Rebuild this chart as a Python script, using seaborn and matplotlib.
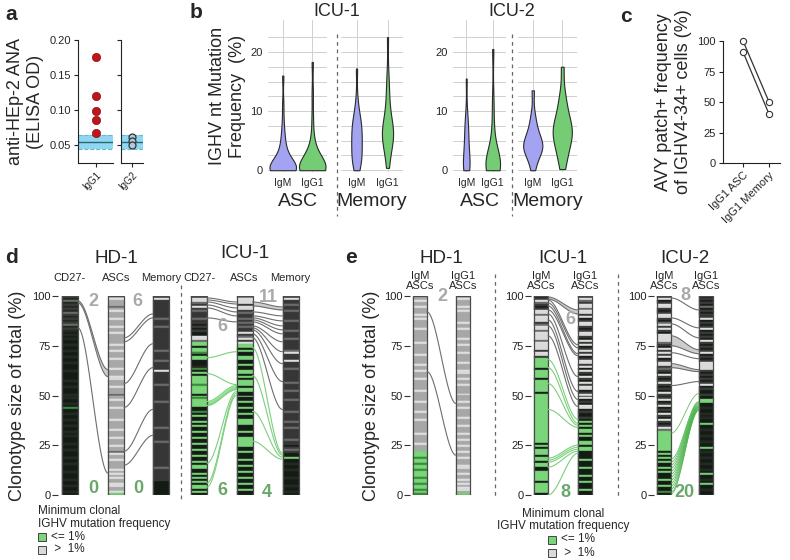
import itertools
import numpy as np
import pandas as pd
import seaborn as sns
import matplotlib.pyplot as plt
from matplotlib.patches import Rectangle
from matplotlib.lines import Line2D

sns.set_theme(style="white")
plt.rcParams["font.family"] = ["Liberation Sans", "DejaVu Sans"]

#####################################################################
# data
#####################################################################

# a - anti-HEp-2 ANA ELISA
ana_igg1 = [0.175, 0.120, 0.098, 0.085, 0.067]
ana_igg2 = [0.061, 0.056, 0.050]
ana_band = [0.044, 0.054, 0.064]   # lower, mean, upper of healthy range

# b - IGHV mutation frequency (%)
icu1_asc_igm = [0, 0, 0, 0, 0, 0, 0, 0, 0, 0, 0, 0, 0.2, 0.3, 0.4, 0.5, 0.6, 0.8, 1.0, 1.2,
                1.5, 1.8, 2.1, 2.5, 3.0, 3.6, 4.3, 5.2, 6.3, 8.0, 11.0, 16.0]
icu1_asc_igg1 = [0, 0, 0, 0, 0, 0, 0, 0, 0, 0, 0, 0.2, 0.3, 0.4, 0.5, 0.7, 0.9, 1.1, 1.3, 1.6,
                 1.9, 2.2, 2.6, 3.0, 3.5, 4.5, 6.0, 9.0, 13.0, 18.3]
icu1_mem_igm = [0, 0.5, 1, 1.5, 2, 2.5, 3, 3.5, 4, 4.5, 5, 5.5, 6, 6.5, 7, 7.5, 8, 8.5, 9, 10, 12, 17.2]
icu1_mem_igg1 = [0.4, 2, 3.5, 4.5, 5, 5.5, 5.8, 6, 6.2, 6.5, 7, 7.5, 8, 9, 10.5, 12, 14, 16, 22.5]
icu2_asc_igm = [0, 0, 0, 0.5, 1, 1.5, 2, 3, 4, 5, 6, 7, 8, 9.5, 15.5]
icu2_asc_igg1 = [0, 0, 0, 0, 0.3, 0.5, 0.8, 1, 1.2, 1.5, 2, 2.5, 3, 5, 8, 12, 20.5]
icu2_mem_igm = [0, 1.5, 2.5, 3, 3.5, 3.8, 4, 4.2, 4.5, 5, 5.5, 6, 7, 8, 9.5, 13.5]
icu2_mem_igg1 = [0.2, 2, 3, 4, 5, 5.5, 6, 6.5, 7, 7.5, 8, 9, 10, 11.5, 13, 17.5]
b_width = {("ICU-1", "ASC", "IgM"): 0.9, ("ICU-1", "ASC", "IgG1"): 0.9,
           ("ICU-1", "Memory", "IgM"): 0.34, ("ICU-1", "Memory", "IgG1"): 0.36,
           ("ICU-2", "ASC", "IgM"): 0.25, ("ICU-2", "ASC", "IgG1"): 0.55,
           ("ICU-2", "Memory", "IgM"): 0.65, ("ICU-2", "Memory", "IgG1"): 0.65}

# c - AVY patch+ frequency
avy_groups = ["IgG1 ASC", "IgG1 Memory"]
avy_donor1 = [100, 50]
avy_donor2 = [91, 40]

# d/e - clonotype bars, top -> bottom, one letter = 1 % of total
# k/j black, d dark gray, m mid gray, g gray, l light gray, G green (<=1%), h dark green
d_hd1_cd27 = ("djmjdjdjmd" "jdjdmjdjkj" "kjkkjkkjkk" "jkkjkkkjkk" "kkjkkjkkkj"
              "kjkkjkhkkj" "kkjkkjkkjk" "jkkkjkkjkk" "kjkkjkkkjk" "kkjkkjkkjk")
d_hd1_asc = ("glgggmglgg" "glggglgglg" "gggglgglgg" "glgggglggg" "llggglgggm"
             "gglggglggg" "gglgggglgg" "glggglggml" "gglgggglgl" "glggllgglG")
d_hd1_mem = ("dldddddddd" "dmdddmdddd" "dddddddmdd" "ddmddddldd" "ddddmddddd"
             "dddmdddddd" "ddddddmddd" "dddmdddddd" "ddddddmddd" "dddkkkkkkk")
d_icu1_cd27 = ("dllmdldmdd" "dmddkdkdkk" "llmGGkGGhk" "GGkkkjhkGk" "GGGGhGGGGk"
               "GhGGGGkkhk" "GkkGkGkkGk" "kGkkGkkGkk" "GkkGkGGkkG" "kGkGkGGkGk")
d_icu1_asc = ("mllldlldmd" "dmdmdmddld" "mldlGGkGkk" "GGkkGkkGGk" "GkGGGkGGkk"
              "GkkGkkGkkG" "kkGGGkkkGk" "kGGGGGkkGk" "kkGkkGkkGk" "kGkkGkkGkk")
d_icu1_mem = ("dlddmddmdd" "ddmddddmdd" "dmdddddmld" "ddldddmddd" "dddmdddmdd"
              "ddmdddddmd" "dddmddmddd" "ddmddkdmdk" "kGkkjkkjkk" "kjkkkjkkjk")
e_hd1_igm = ("gglgglgggl" "glgggglggg" "ggglgggggl" "gggglgglgg" "glggggglgg"
             "ggglgggglg" "gglggggggl" "gggglgggGG" "GhGGhGGhGG" "GhGGhGGhGh")
e_hd1_igg1 = ("glggglglgg" "ggglgglggg" "glgglggglg" "ggglgggllg" "glgglggggl"
              "ggglgglggg" "glggglgggl" "gglgglgglg" "glgggllggl" "gglglgllgG")
e_icu1_igm = ("kdlmdkdllm" "llldmllmll" "llmlllldll" "dGGGGGkGGG" "GkGGGGGGkG"
              "GGGGGGGGGG" "GGGGGGGGGG" "GGGGkGkGGG" "kGGkGGkkGG" "GGGkGGGGGk")
e_icu1_igg1 = ("dlmdllmlld" "lkdlldkdll" "dkldlkdldl" "kdlldlkldk" "ldkldllkdl"
               "dlkdkllkdk" "kdkGkGkGGk" "GkkGGkGGkk" "kkGkkkGkkk" "GkkGkkkGkk")
e_icu2_igm = ("dlkdlldkdl" "ldkmldldkl" "lllmdkldld" "lkdlldmdkl" "dkdldkdkld"
              "kdlkdlkdkl" "dkldkdlmGG" "GGGGGGGGkG" "kGkGkkGkGk" "kkGkkGkkhk")
e_icu2_igg1 = ("kdkdkmkdkd" "dlkdkdlkdk" "dkldkdkdlk" "dkdlllldkd" "kdkdlkdkkd"
               "kkGGkkjkkj" "kjkkGkkjkk" "jkkjkkGkjk" "kjkkjkkjkG" "kkjkGkkjkk")

# shared clonotypes: (left %, right %) lines or (left top, left bottom, right top, right bottom) bands
d_hd1_flow_a = [(97.5, 96.5, 63, 59.5), (84, 11)]
d_hd1_flow_b = [(79, 91), (77, 89), (56, 76), (44, 64), (22, 43), (15, 30)]
d_icu1_flow_a_gray = [(99, 97), (98, 96), (97, 94), (95.5, 92), (94, 90), (89, 87)]
d_icu1_flow_a_green = [(69, 72), (61, 55.5), (47, 45, 55, 53), (16, 52), (6, 51), (4, 50)]
d_icu1_flow_b_gray = [(97, 95, 94.5, 93), (92, 90), (90, 87.5), (89, 85), (88, 83), (87, 81),
                      (85, 77), (84, 72), (83, 66), (81, 57), (79, 43)]
d_icu1_flow_b_green = [(74, 21), (60, 20), (42, 19), (27, 18)]
e_hd1_flow = [(92, 46), (62, 20)]
e_icu1_flow_gray = [(99.5, 98.5, 93, 91), (98, 75.5), (96.5, 74), (95, 71), (93, 70), (91, 59.5),
                    (88, 52), (85, 48), (80, 44.5)]
e_icu1_flow_green = [(68, 38), (64, 36), (56, 35), (43, 34), (18.5, 25), (17.5, 24), (16.5, 23),
                     (14, 22), (0, 21)]
e_icu2_flow_gray = [(99, 93), (89, 84), (86, 79), (80, 75, 73, 71), (71.5, 68.5),
                    (66, 64, 63, 62), (55, 57)]
e_icu2_flow_green = [(31, 51), (18, 47), (16.5, 46.5), (15, 46), (13.5, 45.5), (12, 45), (10.5, 44.5),
                     (9, 44.5), (7.5, 44), (6, 44), (4.5, 43.5), (3, 43), (1.5, 43), (0.5, 42.5)]

#####################################################################
# helpers (pixel layout of a 790x560 figure)
#####################################################################

W, H = 790, 560
fig = plt.figure(figsize=(7.9, 5.6), dpi=100)

stripe_colors = {"k": "#141b14", "j": "#1f271f", "d": "#363636", "m": "#666666",
                 "g": "#a7a7a7", "l": "#dadada", "G": "#7bd67b", "h": "#3f8f3f"}
stripe_edges = {"k": "#2a322a", "j": "#2a322a", "d": "#4a4a4a", "m": "#7a7a7a",
                "g": "#bdbdbd", "l": "#eeeeee", "G": "#63bf63", "h": "#357a35"}
GRAY_LINE, GRAY_FILL = "#6e6e6e", "#cdcdcd"
GREEN_LINE, GREEN_DARK = "#7ccf7c", "#4cb44c"
NUM_GRAY, NUM_GREEN = "#a9a9a9", "#6aa86a"


def box(x0, y0, x1, y1):
    return fig.add_axes([x0 / W, 1 - y1 / H, (x1 - x0) / W, (y1 - y0) / H])


def ftext(x, y, s, **kw):
    fig.text(x / W, 1 - y / H, s, **kw)


def fdash(x, y0, y1):
    fig.add_artist(Line2D([x / W, x / W], [1 - y0 / H, 1 - y1 / H], ls=(0, (3, 3)),
                          color="#666666", lw=0.9))


def clone_bar(ax, xc, w, code):
    pos = 0
    for ch, grp in itertools.groupby(code):
        n = len(list(grp))
        ax.bar(xc, n, bottom=100 - pos - n, width=w, color=stripe_colors[ch],
               edgecolor=stripe_edges[ch], linewidth=0.3)
        pos += n
    ax.add_patch(Rectangle((xc - w / 2, 0), w, 100, fill=False, edgecolor="#4a4a4a", lw=0.9))


def flows(ax, x0, x1, items, line, fill, lw=0.8):
    t = np.linspace(0, 1, 60)
    s = t * t * (3 - 2 * t)
    xs = x0 + (x1 - x0) * t
    for f in items:
        if len(f) == 2:
            lt = lb = f[0]
            rt = rb = f[1]
        else:
            lt, lb, rt, rb = f
        top = lt + (rt - lt) * s
        bot = lb + (rb - lb) * s
        if len(f) == 4:
            ax.fill_between(xs, bot, top, color=fill, lw=0)
            ax.plot(xs, bot, color=line, lw=lw)
        ax.plot(xs, top, color=line, lw=lw)


def clone_axes(x0, x1):
    ax = box(x0, 296, x1, 495)
    ax.set_xlim(x0, x1)
    ax.set_ylim(0, 100)
    for sp in ax.spines.values():
        sp.set_visible(False)
    ax.set_xticks([])
    ax.set_yticks([0, 25, 50, 75, 100])
    ax.tick_params(axis="y", left=True, length=4, width=0.8, color="#333333",
                   labelsize=8, pad=1, labelcolor="#222222")
    ax.grid(False)
    return ax


def num(ax, x, y, s, c):
    ax.text(x, y, s, color=c, fontsize=13, fontweight="bold", ha="center", va="center",
            clip_on=False)


#####################################################################
# a
#####################################################################

for x0, x1, lab, vals in [(78, 113, "IgG1", ana_igg1), (121, 143, "IgG2", ana_igg2)]:
    ax = box(x0, 40, x1, 163)
    ax.axhspan(ana_band[0], ana_band[2], color="#8fd8f0", lw=0, zorder=0)
    ax.axhline(ana_band[0], color="#6fb3cc", ls="--", lw=0.8)
    ax.axhline(ana_band[2], color="#6fb3cc", ls="--", lw=0.8)
    ax.axhline(ana_band[1], color="#2c6676", lw=1.0)
    if lab == "IgG1":
        sns.stripplot(x=[lab] * len(vals), y=vals, ax=ax, jitter=False, size=6,
                      color="#c0151b", edgecolor="#7a0000", linewidth=0.4, zorder=3)
    else:
        sns.stripplot(x=[lab] * len(vals), y=vals, ax=ax, jitter=False, size=5,
                      color="#a9cfdc", edgecolor="#333333", linewidth=0.9, zorder=3)
    ax.set_ylim(0.024, 0.20)
    ax.set_xlim(-0.5, 0.5)
    ax.set_yticks([0.05, 0.10, 0.15, 0.20])
    ax.set_yticklabels(["0.05", "0.10", "0.15", "0.20"] if lab == "IgG1" else [])
    sns.despine(ax=ax)
    for sp in ["left", "bottom"]:
        ax.spines[sp].set_color("#222222")
        ax.spines[sp].set_linewidth(0.8)
    ax.tick_params(axis="both", length=3, width=0.8, color="#222222", labelsize=8, pad=2,
                   left=True, bottom=True)
    ax.set_xticks([0])
    ax.set_xticklabels([lab], rotation=45, ha="right", rotation_mode="anchor", fontsize=7)
    ax.set_xlabel("")
    if lab == "IgG1":
        ax.set_ylabel("anti-HEp-2 ANA\n(ELISA OD)", fontsize=13, labelpad=4)

#####################################################################
# b
#####################################################################

b_rows = []
for pat, sub, iso, vals in [("ICU-1", "ASC", "IgM", icu1_asc_igm), ("ICU-1", "ASC", "IgG1", icu1_asc_igg1),
                            ("ICU-1", "Memory", "IgM", icu1_mem_igm), ("ICU-1", "Memory", "IgG1", icu1_mem_igg1),
                            ("ICU-2", "ASC", "IgM", icu2_asc_igm), ("ICU-2", "ASC", "IgG1", icu2_asc_igg1),
                            ("ICU-2", "Memory", "IgM", icu2_mem_igm), ("ICU-2", "Memory", "IgG1", icu2_mem_igg1)]:
    for v in vals:
        b_rows.append({"patient": pat, "subset": sub, "isotype": iso, "value": v})
b_df = pd.DataFrame(b_rows)
iso_order = ["IgM", "IgG1"]
iso_color = {"IgM": "#a3a3f2", "IgG1": "#74cc74"}

b_boxes = {("ICU-1", "ASC"): (268, 327), ("ICU-1", "Memory"): (341, 403),
           ("ICU-2", "ASC"): (453, 506), ("ICU-2", "Memory"): (518, 577)}
for (pat, sub), (x0, x1) in b_boxes.items():
    ax = box(x0, 20, x1, 172)
    for iso in iso_order:
        d = b_df[(b_df.patient == pat) & (b_df.subset == sub) & (b_df.isotype == iso)]
        sns.violinplot(data=d, x="isotype", y="value", order=iso_order, ax=ax,
                       color=iso_color[iso], saturation=1, width=b_width[(pat, sub, iso)],
                       cut=0, inner=None, linewidth=0.8, linecolor="#2a2a2a",
                       density_norm="width", bw_adjust=0.8)
    ax.set_xlim(-0.5, 1.5)
    ax.set_ylim(-0.3, 25.4)
    ax.set_yticks([0, 10, 20])
    ax.set_yticks(np.arange(2.5, 25, 2.5), minor=True)
    ax.grid(axis="y", which="both", color="#d0d0d0", lw=0.7)
    ax.grid(axis="x", color="#d0d0d0", lw=0.7)
    ax.set_axisbelow(True)
    for sp in ax.spines.values():
        sp.set_visible(False)
    ax.tick_params(axis="both", which="both", length=0, labelsize=8, pad=4)
    ax.set_xticks([0, 1])
    ax.set_xticklabels(iso_order, fontsize=7.5)
    ax.set_xlabel(sub, fontsize=14, labelpad=4)
    if sub == "ASC":
        if pat == "ICU-1":
            ax.set_ylabel("IGHV nt Mutation\nFrequency  (%)", fontsize=13, labelpad=3)
        else:
            ax.set_ylabel("")
    else:
        ax.set_yticklabels([])
        ax.set_ylabel("")

ftext(337, 11, "ICU-1", fontsize=13, ha="center", va="center")
ftext(512, 11, "ICU-2", fontsize=13, ha="center", va="center")
fdash(337, 34, 216)
fdash(512, 34, 216)

#####################################################################
# c
#####################################################################

c_df = pd.DataFrame({"group": avy_groups * 2, "pos": [0, 1, 0, 1],
                     "value": avy_donor1 + avy_donor2, "donor": ["1", "1", "2", "2"]})
ax = box(723, 41, 780, 163)
sns.lineplot(data=c_df, x="pos", y="value", units="donor", estimator=None, ax=ax,
             color="#333333", lw=0.9, marker="o", markersize=4.5, markerfacecolor="white",
             markeredgecolor="#333333", markeredgewidth=0.8)
ax.set_xlim(-0.77, 1.42)
ax.set_ylim(0, 100)
ax.set_yticks([0, 25, 50, 75, 100])
ax.set_xticks([0, 1])
ax.set_xticklabels(avy_groups, rotation=45, ha="right", rotation_mode="anchor", fontsize=6.5)
ax.set_xlabel("")
ax.set_ylabel("AVY patch+ frequency\nof IGHV4-34+ cells (%)", fontsize=13, labelpad=4)
sns.despine(ax=ax)
for sp in ["left", "bottom"]:
    ax.spines[sp].set_color("#222222")
    ax.spines[sp].set_linewidth(0.8)
ax.tick_params(axis="both", length=3, width=0.8, color="#222222", labelsize=8, pad=2,
               left=True, bottom=True)
for line in ax.lines:
    line.set_clip_on(False)

#####################################################################
# d
#####################################################################

ax = clone_axes(58, 310)
bw = 16
d_bars = [(70, d_hd1_cd27), (116, d_hd1_asc), (161, d_hd1_mem),
          (199, d_icu1_cd27), (244.5, d_icu1_asc), (290.5, d_icu1_mem)]
flows(ax, 70 + bw / 2, 116 - bw / 2, d_hd1_flow_a, GRAY_LINE, GRAY_FILL)
flows(ax, 116 + bw / 2, 161 - bw / 2, d_hd1_flow_b, GRAY_LINE, GRAY_FILL)
flows(ax, 199 + bw / 2, 244.5 - bw / 2, d_icu1_flow_a_gray, GRAY_LINE, GRAY_FILL)
flows(ax, 199 + bw / 2, 244.5 - bw / 2, d_icu1_flow_a_green, GREEN_LINE, "#8fe08f")
flows(ax, 244.5 + bw / 2, 290.5 - bw / 2, d_icu1_flow_b_gray, GRAY_LINE, GRAY_FILL)
flows(ax, 244.5 + bw / 2, 290.5 - bw / 2, d_icu1_flow_b_green, GREEN_LINE, "#8fe08f")
for xc, code in d_bars:
    clone_bar(ax, xc, bw, code)
for xc, lab in zip([70, 116, 161, 199, 244.5, 290.5],
                   ["CD27-", "ASCs", "Memory", "CD27-", "ASCs", "Memory"]):
    ax.text(xc, 109, lab, fontsize=8, ha="center", va="center", clip_on=False)
ax.text(116, 119, "HD-1", fontsize=13.5, ha="center", va="center", clip_on=False)
ax.text(244.5, 121.5, "ICU-1", fontsize=13.5, ha="center", va="center", clip_on=False)
ax.set_ylabel("Clonotype size of total (%)", fontsize=13, labelpad=5)
num(ax, 93, 97, "2", NUM_GRAY)
num(ax, 137, 97, "6", NUM_GRAY)
num(ax, 93, 3.5, "0", NUM_GREEN)
num(ax, 138, 3.5, "0", NUM_GREEN)
num(ax, 268, 99, "11", NUM_GRAY)
num(ax, 222, 84.5, "6", NUM_GRAY)
num(ax, 222, 2.5, "6", NUM_GREEN)
num(ax, 267, 1.5, "4", NUM_GREEN)
fdash(181, 285, 500)

#####################################################################
# e
#####################################################################

ew = 14
e_panels = [(410, 480, "HD-1", 420, 463, e_hd1_igm, e_hd1_igg1,
             [(e_hd1_flow, GRAY_LINE, GRAY_FILL, 0.8)]),
            (531, 600, "ICU-1", 541, 585, e_icu1_igm, e_icu1_igg1,
             [(e_icu1_flow_gray, GRAY_LINE, GRAY_FILL, 0.8), (e_icu1_flow_green, GREEN_LINE, "#8fe08f", 0.8)]),
            (654, 720, "ICU-2", 664, 706, e_icu2_igm, e_icu2_igg1,
             [(e_icu2_flow_gray, GRAY_LINE, GRAY_FILL, 0.8), (e_icu2_flow_green, GREEN_DARK, "#5fc05f", 0.5)])]
for x0, x1, title, xa, xb, code_a, code_b, fl in e_panels:
    ax = clone_axes(x0, x1)
    for items, lc, fc, lw in fl:
        flows(ax, xa + ew / 2, xb - ew / 2, items, lc, fc, lw)
    clone_bar(ax, xa, ew, code_a)
    clone_bar(ax, xb, ew, code_b)
    ax.text(xa, 107.5, "IgM\nASCs", fontsize=8, ha="center", va="center", linespacing=0.95,
            clip_on=False)
    ax.text(xb, 107.5, "IgG1\nASCs", fontsize=8, ha="center", va="center", linespacing=0.95,
            clip_on=False)
    ax.text((xa + xb) / 2, 119, title, fontsize=13.5, ha="center", va="center", clip_on=False)
    if title == "HD-1":
        ax.set_ylabel("Clonotype size of total (%)", fontsize=13, labelpad=3)
        num(ax, 442, 99.5, "2", NUM_GRAY)
    elif title == "ICU-1":
        num(ax, 570, 88, "6", NUM_GRAY)
        num(ax, 565, 1.5, "8", NUM_GREEN)
    else:
        num(ax, 685, 100, "8", NUM_GRAY)
        num(ax, 684, 1.5, "20", NUM_GREEN)
fdash(495, 274, 498)
fdash(618, 274, 498)

#####################################################################
# legends and panel letters
#####################################################################

def legend(x, y, centered):
    ha = "center" if centered else "left"
    ftext(x, y, "Minimum clonal", fontsize=8.5, ha=ha, va="center")
    ftext(x, y + 12.5, "IGHV mutation frequency", fontsize=8.5, ha=ha, va="center")
    bx = x - 15 if centered else x
    for k, (c, s) in enumerate([("#7bd67b", "<= 1%"), ("#d9d9d9", " >  1%")]):
        yy = y + 25.5 + 13 * k
        fig.add_artist(Rectangle((bx / W, 1 - (yy + 4) / H), 8 / W, 8 / H, facecolor=c,
                                 edgecolor="#444444", lw=0.7))
        ftext(bx + 13, yy, s, fontsize=8.5, ha="left", va="center")


legend(38, 511, False)
legend(563, 514, True)

for x, y, s in [(5, 14, "a"), (190, 12, "b"), (620, 16, "c"), (5, 258, "d"), (345, 258, "e")]:
    ftext(x, y, s, fontsize=15, fontweight="bold", ha="left", va="center")

plt.savefig("out.png", dpi=100)
